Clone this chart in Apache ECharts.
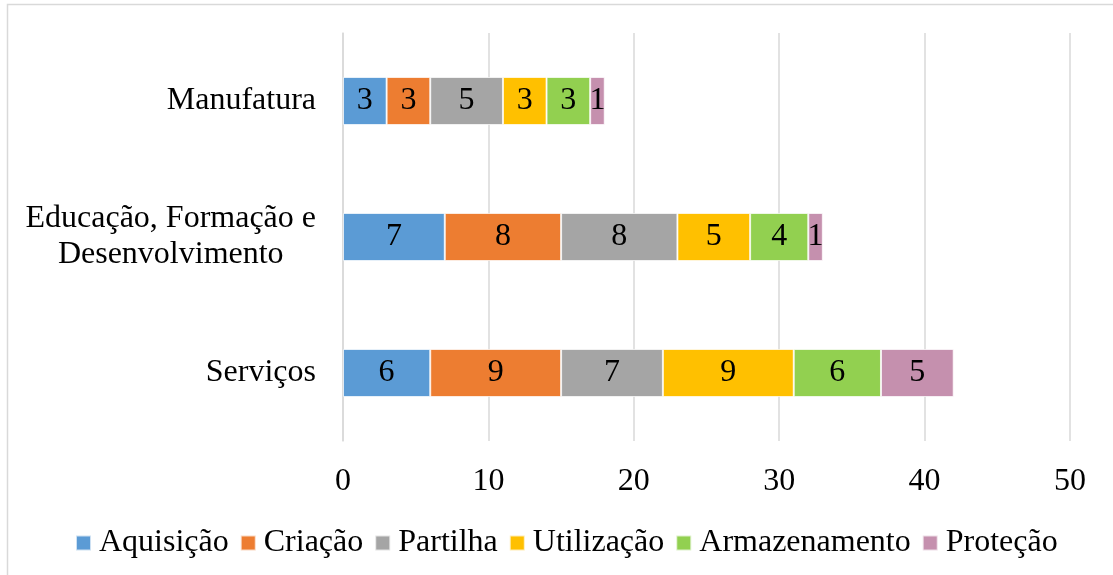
<!DOCTYPE html>
<html>
<head>
<meta charset="utf-8">
<script src="https://cdn.jsdelivr.net/npm/echarts@6/dist/echarts.min.js"></script>
<style>
  html, body { margin: 0; padding: 0; background: #fff; }
  #chart { width: 1113px; height: 575px; }
</style>
</head>
<body>
<div id="chart"></div>
<script>
// categories, bottom to top
var categories = ['Serviços', 'Educação, Formação e\nDesenvolvimento', 'Manufatura'];
var seriesNames = ['Aquisição', 'Criação', 'Partilha', 'Utilização', 'Armazenamento', 'Proteção'];
var colors = ['#5b9bd5', '#ed7d31', '#a5a5a5', '#ffc000', '#92d050', '#c590ae'];

var aquisicao = [6, 7, 3];
var criacao = [9, 8, 3];
var partilha = [7, 8, 5];
var utilizacao = [9, 5, 3];
var armazenamento = [6, 4, 3];
var protecao = [5, 1, 1];

var xTicks = [0, 10, 20, 30, 40, 50];

var allValues = [aquisicao, criacao, partilha, utilizacao, armazenamento, protecao];
var font = '"Liberation Serif", "Times New Roman", serif';

var chart = echarts.init(document.getElementById('chart'));

function buildSeries() {
    var out = [];
    for (var i = 0; i < seriesNames.length; i++) {
        out.push({
            name: seriesNames[i],
            type: 'bar',
            stack: 'total',
            barWidth: 48,
            data: allValues[i],
            itemStyle: { color: colors[i], borderColor: 'rgba(255,255,255,0.7)', borderWidth: 1 },
            label: {
                show: true,
                position: 'inside',
                color: '#000',
                fontFamily: font,
                fontSize: 32
            }
        });
    }
    return out;
}

chart.setOption({
    animation: false,
    color: colors,
    graphic: [{
        type: 'rect',
        shape: { x: 7.5, y: 4.5, width: 1300, height: 800 },
        style: { fill: null, stroke: '#d9d9d9', lineWidth: 1.5 },
        silent: true
    }],
    grid: { left: 343, right: 43, top: 33, bottom: 134 },
    legend: {
        data: seriesNames,
        top: 522,
        left: 70,
        itemWidth: 15,
        itemHeight: 15,
        itemGap: 11,
        icon: 'rect',
        textStyle: { fontFamily: font, fontSize: 32, color: '#000', padding: [0, 0, 0, 3] }
    },
    xAxis: {
        type: 'value',
        min: xTicks[0],
        max: xTicks[xTicks.length - 1],
        interval: 10,
        axisLine: { show: false },
        axisTick: { show: false },
        splitLine: { lineStyle: { color: '#d9d9d9', width: 1.5 } },
        axisLabel: { fontFamily: font, fontSize: 32, color: '#000', margin: 25 }
    },
    yAxis: {
        type: 'category',
        data: categories,
        axisLine: { show: true, lineStyle: { color: '#d9d9d9', width: 1.5 } },
        axisTick: { show: false },
        axisLabel: {
            margin: 27,
            formatter: function (v) {
                return v.split('\n').map(function (s) { return '{c|' + s + '}'; }).join('\n');
            },
            rich: {
                c: { fontFamily: font, fontSize: 32, color: '#000', align: 'center', lineHeight: 36 }
            }
        }
    },
    series: buildSeries()
});
</script>
</body>
</html>
